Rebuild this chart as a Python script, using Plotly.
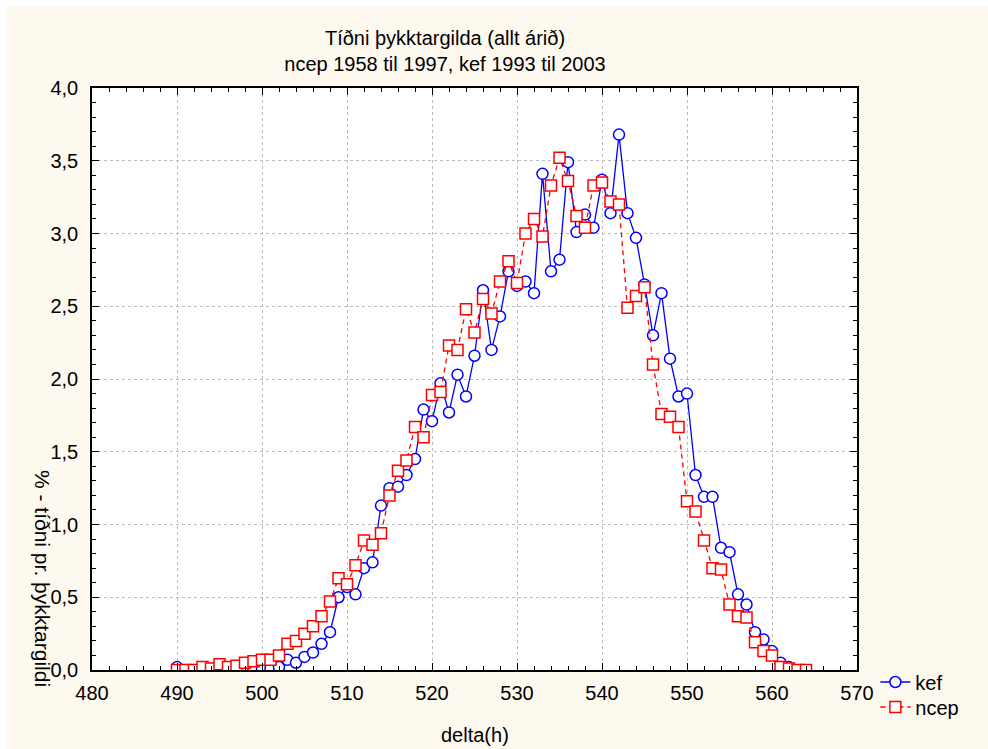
import plotly.graph_objects as go

kef_x = list(range(490, 563))
kef_y = [0.02, 0.00, 0.00, 0.00, 0.00, 0.00, 0.00, 0.00, 0.01, 0.00,
         0.01, 0.01, 0.02, 0.07, 0.05, 0.09, 0.12, 0.18, 0.26, 0.50,
         0.57, 0.52, 0.70, 0.74, 1.13, 1.25, 1.26, 1.34, 1.45, 1.79,
         1.71, 1.97, 1.77, 2.03, 1.88, 2.16, 2.61, 2.20, 2.43, 2.74,
         2.64, 2.67, 2.59, 3.41, 2.74, 2.82, 3.49, 3.01, 3.13, 3.04,
         3.37, 3.14, 3.68, 3.14, 2.97, 2.65, 2.30, 2.59, 2.14, 1.88,
         1.90, 1.34, 1.19, 1.19, 0.84, 0.81, 0.52, 0.45, 0.26, 0.21,
         0.13, 0.05, 0.02]

ncep_x = list(range(490, 565))
ncep_y = [0.00, 0.00, 0.00, 0.02, 0.01, 0.04, 0.02, 0.03, 0.05, 0.06,
          0.07, 0.07, 0.10, 0.18, 0.20, 0.25, 0.30, 0.37, 0.47, 0.63,
          0.59, 0.72, 0.89, 0.86, 0.94, 1.20, 1.37, 1.44, 1.67, 1.60,
          1.89, 1.91, 2.23, 2.20, 2.48, 2.32, 2.55, 2.45, 2.67, 2.81,
          2.66, 3.00, 3.10, 2.98, 3.33, 3.52, 3.36, 3.12, 3.04, 3.33,
          3.35, 3.22, 3.20, 2.49, 2.57, 2.63, 2.10, 1.76, 1.74, 1.67,
          1.16, 1.09, 0.89, 0.70, 0.69, 0.45, 0.37, 0.36, 0.19, 0.13,
          0.10, 0.02, 0.01, 0.00, 0.00]

title_text = "Tíðni þykktargilda (allt árið)<br>ncep 1958 til 1997, kef 1993 til 2003"
x_title = "delta(h)"
y_title = "% - tíðni pr. þykktargildi"

FONT = "Liberation Sans, Arial, sans-serif"
CREAM = "#FDF9EF"
FS = 20

fig = go.Figure()
fig.add_trace(go.Scatter(
    x=kef_x, y=kef_y, name="kef", mode="lines+markers", legend="legend",
    line=dict(color="#0000FF", width=1.3),
    marker=dict(symbol="circle", size=11, color="white",
                line=dict(color="#0000FF", width=1.5)),
))
fig.add_trace(go.Scatter(
    x=ncep_x, y=ncep_y, name="ncep", mode="lines+markers", legend="legend2",
    line=dict(color="#FF0000", width=1.3, dash="5px,4px"),
    marker=dict(symbol="square", size=11, color="white",
                line=dict(color="#FF0000", width=1.5)),
))

axis_common = dict(
    showline=True, linecolor="black", linewidth=1.5, mirror="allticks",
    ticks="inside", ticklen=7, tickcolor="black", tickwidth=1,
    showgrid=True, gridcolor="#BDBDBD", griddash="dot", gridwidth=1,
    zeroline=False,
    tickfont=dict(family=FONT, size=FS, color="black"),
)

fig.update_xaxes(range=[480, 570], dtick=10, tick0=480,
                 minor=dict(dtick=2, ticks="inside", ticklen=4, tickcolor="black", showgrid=False),
                 ticklabelstandoff=4, **axis_common)
fig.update_yaxes(range=[0, 4], dtick=0.5, tick0=0, tickformat=".1f",
                 minor=dict(dtick=0.1, ticks="inside", ticklen=4, tickcolor="black", showgrid=False),
                 ticklabelstandoff=8, **axis_common)

legend_common = dict(x=1.024, xanchor="left", yanchor="top",
                     bgcolor="rgba(0,0,0,0)", font=dict(family=FONT, size=FS),
                     itemwidth=30)

fig.update_layout(
    width=988, height=749,
    margin=dict(l=92, r=131, t=88, b=79),
    paper_bgcolor=CREAM, plot_bgcolor="white",
    separators=", ",
    font=dict(family=FONT, size=FS, color="black"),
    title=dict(text=title_text, x=445 / 988, xanchor="center", xref="container",
               y=1 - 45 / 749, yanchor="middle",
               font=dict(family=FONT, size=FS, color="black")),
    legend=dict(y=7.5 / 582, **legend_common),
    legend2=dict(y=-17.5 / 582, **legend_common),
    showlegend=True,
    annotations=[
        dict(text=x_title, xref="paper", yref="paper", x=0.5, y=-65 / 582,
             xanchor="center", yanchor="middle", showarrow=False,
             font=dict(family=FONT, size=FS, color="black")),
        dict(text=y_title, xref="paper", yref="paper", x=(43 - 92) / 765,
             y=(670 - 578) / 582, xanchor="center", yanchor="middle",
             textangle=90, showarrow=False,
             font=dict(family=FONT, size=21, color="black")),
    ],
    shapes=[
        dict(type="rect", xref="paper", yref="paper", layer="below",
             x0=-92 / 765, x1=(988 - 92) / 765, y0=(670 - 7) / 582, y1=670 / 582,
             fillcolor="white", line=dict(width=0)),
        dict(type="rect", xref="paper", yref="paper", layer="below",
             x0=-92 / 765, x1=(7 - 92) / 765, y0=(670 - 749) / 582, y1=670 / 582,
             fillcolor="white", line=dict(width=0)),
    ],
)

fig.write_html("out.html")
